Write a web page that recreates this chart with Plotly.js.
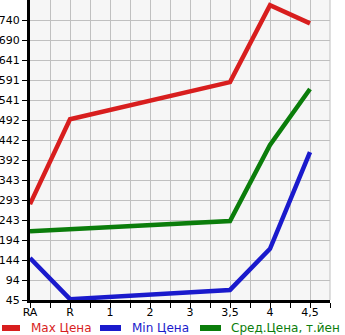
<!DOCTYPE html>
<html><head><meta charset="utf-8">
<script src="https://cdn.plot.ly/plotly-3.0.1.min.js"></script>
<style>html,body{margin:0;padding:0;background:#fff}#c{width:345px;height:335px}</style>
</head><body><div id="c"></div>
<script>
const categories = ['RA','R','1','2','3','3.5','4','4.5'];
const tickLabels = ['RA','R','1','2','3','3,5','4','4,5'];
const maxPrice = [283, 494, null, null, null, 586, 777, 732];
const minPrice = [149, 47, null, null, null, 70, 172, 412];
const avgPrice = [216, null, null, null, null, 241, 430, 569];
const yTickLabels = ['45','94','144','194','243','293','343','392','442','492','541','591','641','690','740'];
const seriesNames = ['Max Цена', 'Min Цена', 'Сред.Цена, т.йен'];
const seriesColors = ['#d81e1e', '#1a1acc', '#0b7d0b'];

const xIdx = categories.map((c,i)=>i);
const yMin = +yTickLabels[0], yMax = +yTickLabels[yTickLabels.length-1];
const yStep = (yMax - yMin)/(yTickLabels.length-1);
const yTickVals = yTickLabels.map((t,i)=>yMin + i*yStep);

const series = [maxPrice, minPrice, avgPrice];
const data = series.map((y,k)=>({x:xIdx, y:y, name:seriesNames[k], type:'scatter', mode:'lines',
  connectgaps:true, line:{color:seriesColors[k], width:4.5}, hoverinfo:'skip'}));

// custom legend (in pixels relative to plot area: left=30, top=0, w=300, h=300)
const L=30, W=300, H=300;
const px=(x)=>(x-L)/W, py=(y)=>(H-y)/H;
const legendSym = [[2,20],[100,121],[200,221]];
const legendText = [29, 130, 229];
const legendY = 328;
const shapes = [{type:'line', xref:'paper', yref:'paper', x0:1, x1:1, y0:0, y1:1, line:{color:'#c0c0c0', width:1}}];
const annotations = [];
seriesNames.forEach((n,k)=>{
  shapes.push({type:'line', xref:'paper', yref:'paper', x0:px(legendSym[k][0]), x1:px(legendSym[k][1]),
    y0:py(legendY), y1:py(legendY), line:{color:seriesColors[k], width:6}});
  annotations.push({xref:'paper', yref:'paper', x:px(legendText[k]), y:py(legendY), xanchor:'left', yanchor:'middle',
    text:n, showarrow:false, font:{size:12, color:seriesColors[k]}});
});

const layout = {
  width:345, height:335,
  margin:{l:30, r:15, t:0, b:35},
  paper_bgcolor:'#ffffff', plot_bgcolor:'#f6f6f6',
  font:{family:'DejaVu Sans', size:11, color:'#000'},
  showlegend:false,
  xaxis:{range:[0, categories.length-0.5], tickvals:xIdx, ticktext:tickLabels,
    showgrid:true, gridcolor:'#c0c0c0', gridwidth:1, ticks:'', zeroline:false,
    showline:true, linecolor:'#000', linewidth:3, tickfont:{size:11},
    minor:{dtick:0.5, tick0:0.5, showgrid:true, gridcolor:'#c0c0c0', gridwidth:1, ticks:'outside', ticklen:5, tickcolor:'#000', tickwidth:1},
    fixedrange:true, automargin:false},
  yaxis:{range:[yMin, yMax + yStep*20/19.86], tickvals:yTickVals, ticktext:yTickLabels,
    showgrid:true, gridcolor:'#c0c0c0', gridwidth:1, ticks:'outside', ticklen:5, tickcolor:'#000',
    zeroline:false, showline:true, linecolor:'#000', linewidth:3, tickfont:{size:11}, fixedrange:true, automargin:false},
  shapes:shapes, annotations:annotations
};
Plotly.newPlot('c', data, layout, {displayModeBar:false, staticPlot:true});
</script></body></html>
